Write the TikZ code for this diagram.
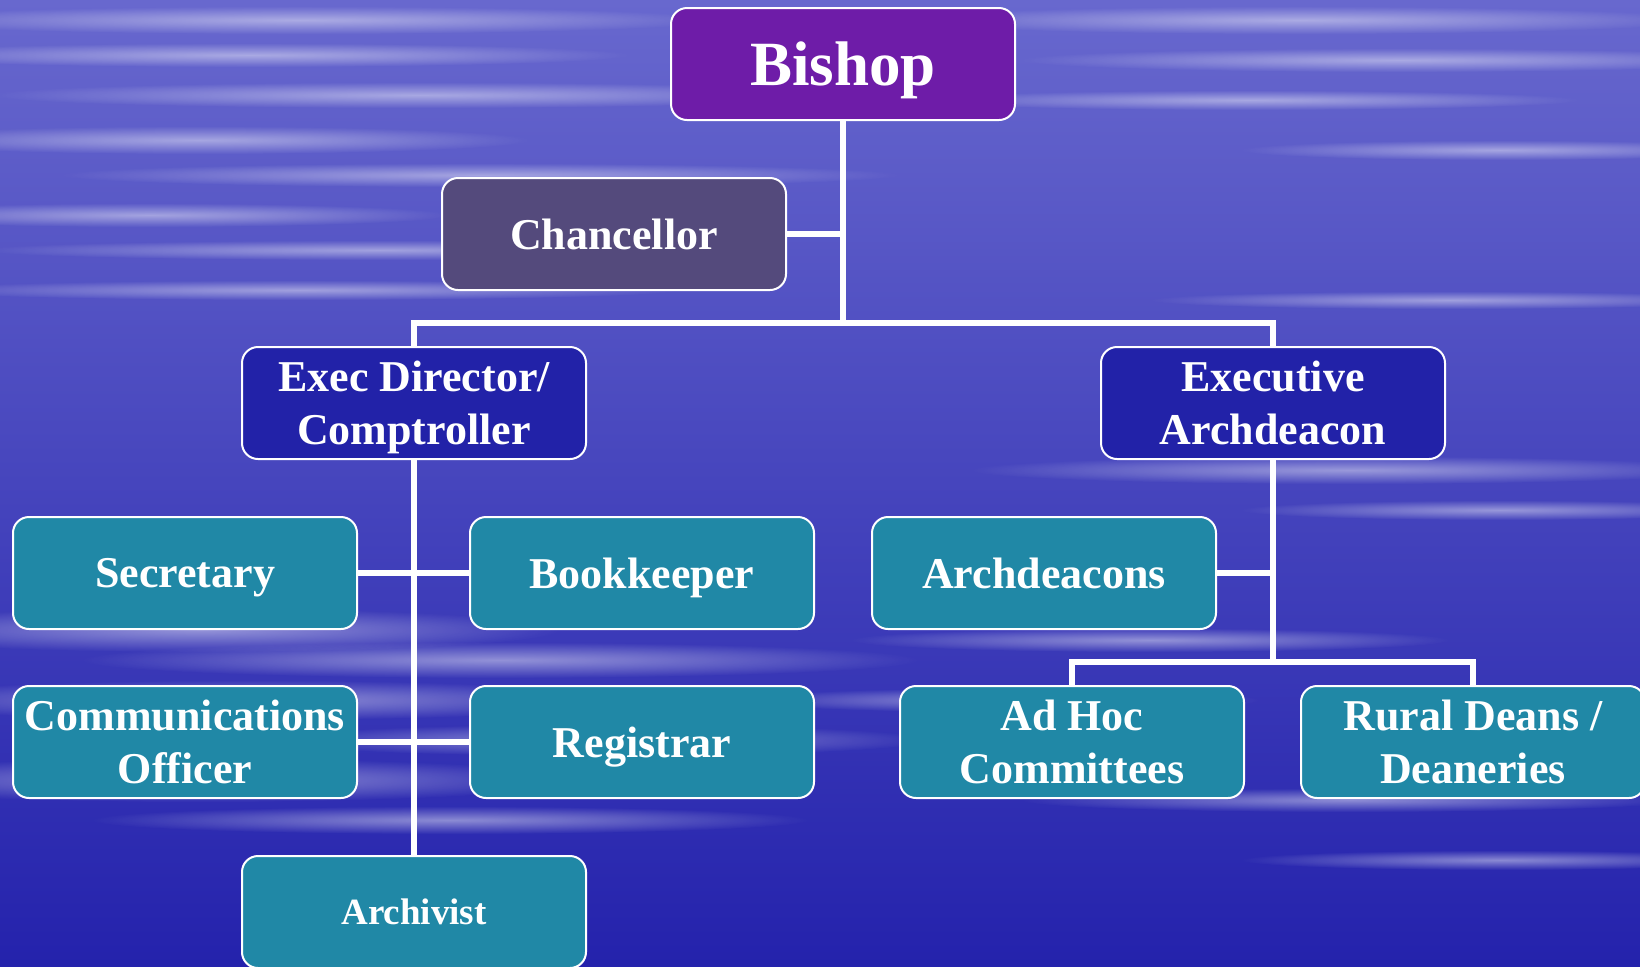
\documentclass[tikz,border=0pt]{standalone}
\usepackage{fontspec}
\setmainfont{Liberation Serif}
\usepackage{xcolor}
\usetikzlibrary{shapes,arrows,fadings}

\definecolor{skyTop}{RGB}{104,104,206}
\definecolor{skyMid}{RGB}{56,54,188}
\definecolor{skyBot}{RGB}{36,34,172}
\definecolor{bishopPurple}{RGB}{110,28,168}
\definecolor{chancGrey}{RGB}{84,74,124}
\definecolor{execBlue}{RGB}{34,34,168}
\definecolor{staffTeal}{RGB}{32,136,166}

\tikzfading[name=cloudfade, inner color=transparent!55, outer color=transparent!100]

\begin{document}
\begin{tikzpicture}[x=0.5pt,y=-0.5pt,
    box/.style ={rectangle, rounded corners=8pt, draw=white, line width=1pt,
      text=white, align=center, inner sep=2pt, text depth=0pt,
      font=\bfseries\fontsize{22}{26.5}\selectfont,
      minimum width=172pt, minimum height=56pt},
    cloud/.style ={fill=white, path fading=cloudfade},
    line/.style ={draw=white, line width=3pt}]
    % background sky
    \useasboundingbox (0,0) rectangle (1640,966);
    \clip (0,0) rectangle (1640,966);
    \shade [top color=skyTop, middle color=skyMid, bottom color=skyBot] (0,0) rectangle (1640,966);
    % thin streaks (centre x, centre y, half length, half height)
    \foreach \cx/\cy/\rx/\ry in {300/20/420/14, 250/55/380/12, 420/95/430/13,
        200/140/330/14, 480/175/420/12, 150/215/300/12, 380/250/400/10,
        300/290/380/10, 1300/20/400/14, 1400/60/380/12, 1250/100/330/10,
        1500/150/260/10, 1450/300/300/9, 1350/470/380/14, 1500/510/260/10,
        200/630/360/22, 500/660/420/18, 250/700/380/20, 600/740/330/16,
        200/780/380/22, 450/820/360/14, 1150/640/300/12, 1000/700/260/12,
        1350/800/330/12, 1500/860/260/10}
      \fill [cloud] (\cx,\cy) ellipse [x radius=\rx, y radius=\ry];
    % top of the chart
    \node [box, fill=bishopPurple, font=\bfseries\fontsize{31.5}{36}\selectfont] (bishop) at (843,64) {Bishop};
    \node [box, fill=chancGrey] (chancellor) at (614,234) {Chancellor};
    \node [box, fill=execBlue] (execDir) at (414,403) {Exec Director/\\Comptroller};
    \node [box, fill=execBlue] (execArch) at (1273,403) {Executive\\Archdeacon};
    % office staff
    \node [box, fill=staffTeal] (secretary) at (185,573) {Secretary};
    \node [box, fill=staffTeal] (bookkeeper) at (642,573) {Bookkeeper};
    \node [box, fill=staffTeal] (commOff) at (185,742) {Communications\\Officer};
    \node [box, fill=staffTeal] (registrar) at (642,742) {Registrar};
    \node [box, fill=staffTeal, font=\bfseries\fontsize{18.5}{22}\selectfont] (archivist) at (414,912) {Archivist};
    % clergy side
    \node [box, fill=staffTeal] (archdeacons) at (1044,573) {Archdeacons};
    \node [box, fill=staffTeal] (adHoc) at (1072,742) {Ad Hoc\\Committees};
    \node [box, fill=staffTeal] (ruralDeans) at (1473,742) {Rural Deans /\\Deaneries};
    \coordinate (topSplit) at (843,323);
    \coordinate (archSplit) at (1273,662);
    % connecting nodes with paths
    \begin{scope}[every path/.style=line]
      \path (bishop) -- (topSplit);
      \path (chancellor.east) -- (chancellor.east -| topSplit);
      \path (execDir.north) |- (topSplit) -| (execArch.north);
      \path (execDir) -- (archivist);
      \path (secretary) -- (bookkeeper);
      \path (commOff) -- (registrar);
      \path (execArch) -- (archSplit);
      \path (archdeacons.east) -- (archdeacons.east -| archSplit);
      \path (adHoc.north) |- (archSplit) -| (ruralDeans.north);
    \end{scope}
  \end{tikzpicture}
\end{document}
